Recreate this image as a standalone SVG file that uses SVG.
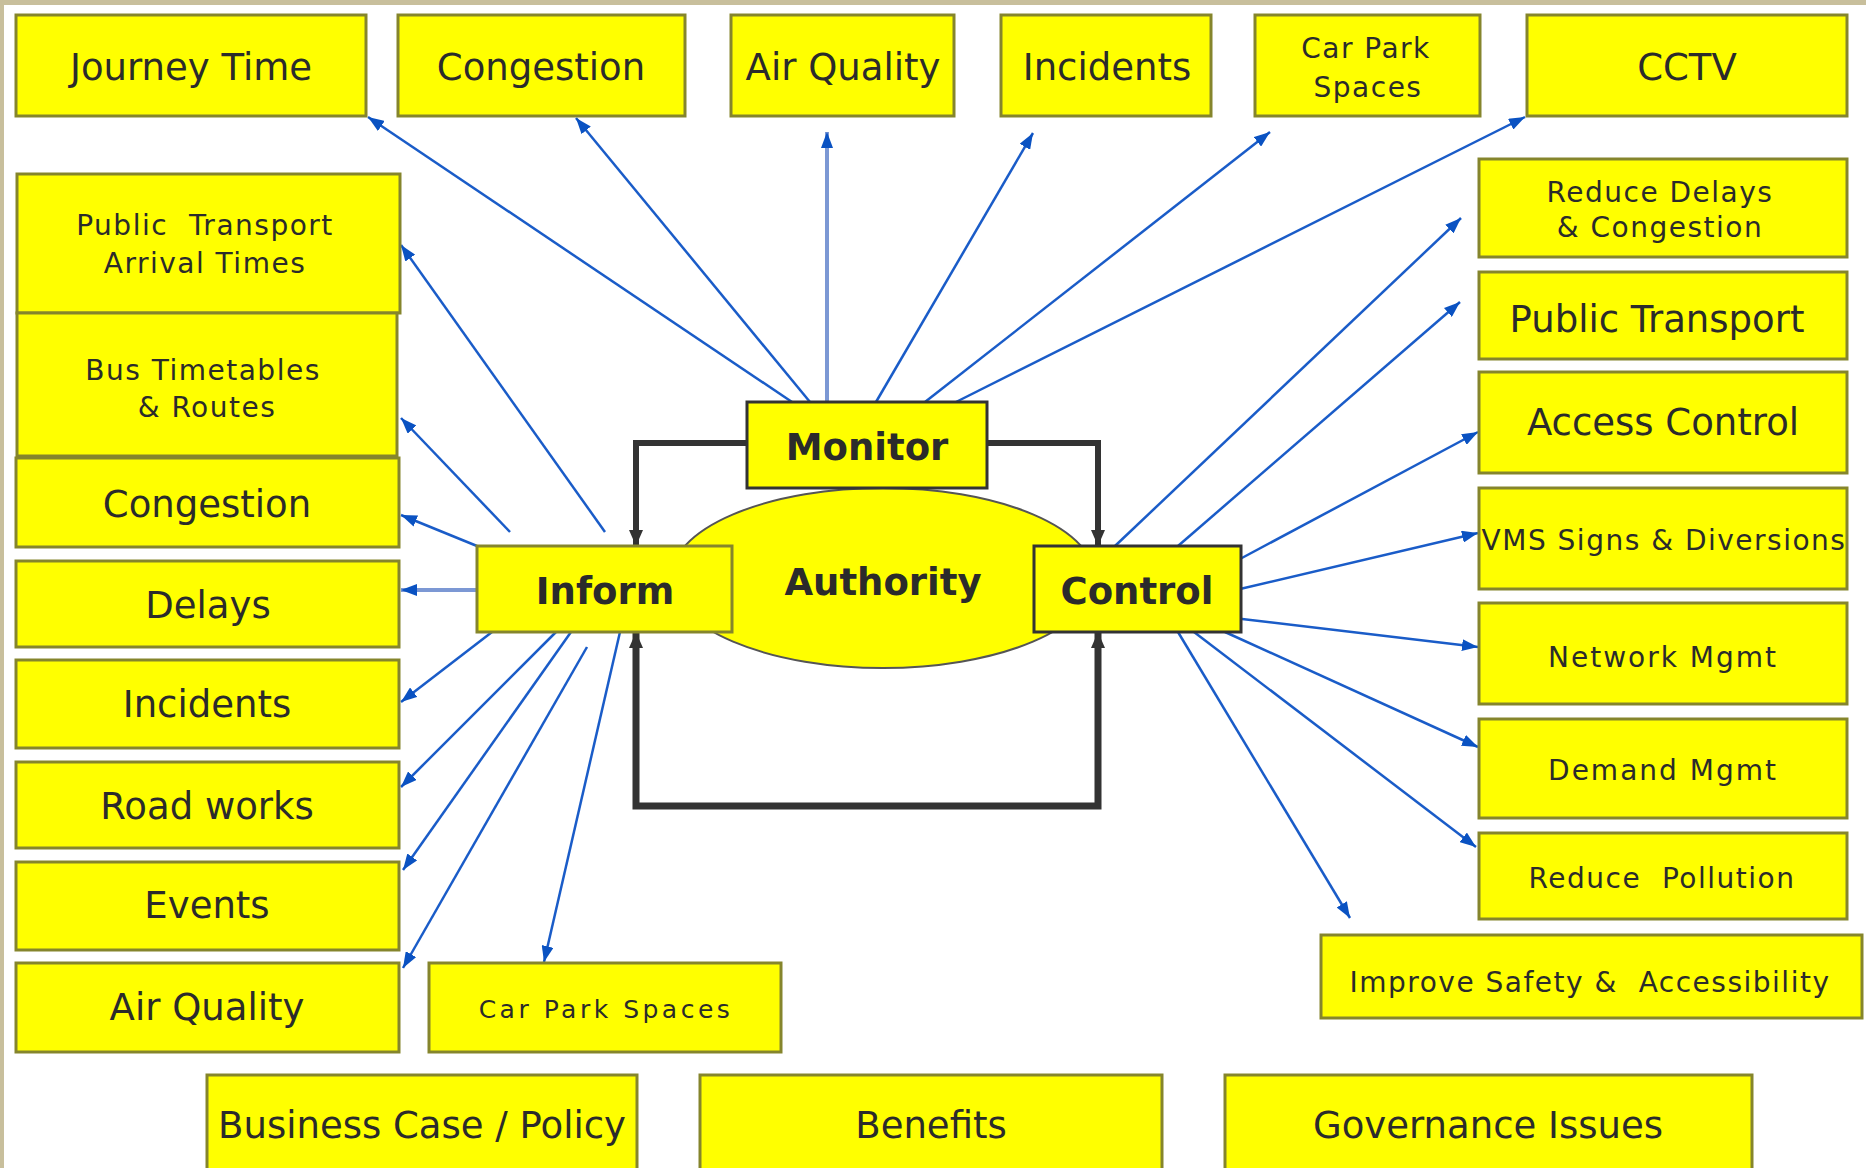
<svg xmlns="http://www.w3.org/2000/svg" width="1866" height="1168" viewBox="0 0 1866 1168">
<style>
.box{fill:#ffff00;stroke:#85852c;stroke-width:3}
.dark{stroke:#333333}
.big{font-family:"DejaVu Sans",Verdana,sans-serif;font-size:37px;fill:#2b2b2b;text-anchor:middle}
.sm{font-family:"DejaVu Sans",Verdana,sans-serif;font-size:28px;letter-spacing:1.5px;fill:#2b2b2b;text-anchor:middle}
.bold{font-family:"DejaVu Sans",Verdana,sans-serif;font-size:37px;font-weight:bold;fill:#2b2b2b;text-anchor:middle}
.blue{stroke:#1a5cc8;stroke-width:2.5;fill:none;marker-end:url(#ab)}
.light{stroke:#7c98d4;stroke-width:4}
.blk{stroke:#333333;stroke-width:6;fill:none;marker-end:url(#ak)}
</style>
<defs>
<marker id="ab" markerUnits="userSpaceOnUse" markerWidth="17" markerHeight="12" refX="16" refY="6" orient="auto"><path d="M0,0 L16,6 L0,12 z" fill="#0a52c2"/></marker>
<marker id="ak" markerUnits="userSpaceOnUse" markerWidth="17" markerHeight="14" refX="16" refY="7" orient="auto-start-reverse"><path d="M0,0 L16,7 L0,14 z" fill="#333333"/></marker>
</defs>
<rect x="0" y="0" width="1866" height="1168" fill="#ffffff"/>
<rect x="0" y="0" width="1866" height="5" fill="#c8bf9c"/>
<rect x="0" y="0" width="4" height="1168" fill="#c8bf9c"/>

<g id="authority"><ellipse cx="883" cy="578" rx="212" ry="90" fill="#ffff00" stroke="#555555" stroke-width="2"/><text class="bold" x="883" y="595">Authority</text></g>

<g id="connectors">
<path class="blk" d="M747,443 H636 V546"/>
<path class="blk" d="M987,443 H1098 V546"/>
<path class="blk" d="M636,632 V806 H1098 V632" style="marker-start:url(#ak);stroke-width:7"/>
<line class="blue" x1="792" y1="402" x2="368" y2="117"/>
<line class="blue" x1="810" y1="402" x2="576" y2="118"/>
<line class="blue light" x1="827" y1="402" x2="827" y2="132"/>
<line class="blue" x1="876" y1="402" x2="1033" y2="133"/>
<line class="blue" x1="925" y1="402" x2="1270" y2="132"/>
<line class="blue" x1="956" y1="402" x2="1525" y2="117"/>
<line class="blue" x1="605" y1="532" x2="401" y2="245"/>
<line class="blue" x1="510" y1="532" x2="401" y2="418"/>
<line class="blue" x1="477" y1="546" x2="401" y2="515"/>
<line class="blue light" x1="477" y1="590" x2="401" y2="590"/>
<line class="blue" x1="492" y1="632" x2="401" y2="702"/>
<line class="blue" x1="556" y1="632" x2="401" y2="787"/>
<line class="blue" x1="571" y1="632" x2="403" y2="870"/>
<line class="blue" x1="587" y1="647" x2="403" y2="968"/>
<line class="blue" x1="620" y1="632" x2="544" y2="962"/>
<line class="blue" x1="1115" y1="546" x2="1461" y2="218"/>
<line class="blue" x1="1178" y1="546" x2="1460" y2="302"/>
<line class="blue" x1="1240" y1="559" x2="1478" y2="432"/>
<line class="blue" x1="1240" y1="589" x2="1478" y2="533"/>
<line class="blue" x1="1225" y1="617" x2="1478" y2="647"/>
<line class="blue" x1="1225" y1="632" x2="1478" y2="747"/>
<line class="blue" x1="1194" y1="632" x2="1476" y2="847"/>
<line class="blue" x1="1178" y1="632" x2="1350" y2="918"/>
</g>

<g id="monitor"><rect class="box dark" x="747" y="402" width="240" height="86"/><text class="bold" x="867" y="460">Monitor</text></g>
<g id="inform"><rect class="box" x="477" y="546" width="255" height="86"/><text class="bold" x="605" y="604">Inform</text></g>
<g id="control"><rect class="box dark" x="1034" y="546" width="207" height="86"/><text class="bold" x="1137" y="604">Control</text></g>

<g id="journey-time"><rect class="box" x="16" y="15" width="350" height="101"/><text class="big" x="191" y="80">Journey Time</text></g>
<g id="congestion-top"><rect class="box" x="398" y="15" width="287" height="101"/><text class="big" x="541" y="80">Congestion</text></g>
<g id="air-quality-top"><rect class="box" x="731" y="15" width="223" height="101"/><text class="big" x="843" y="80">Air Quality</text></g>
<g id="incidents-top"><rect class="box" x="1001" y="15" width="210" height="101"/><text class="big" x="1107" y="80">Incidents</text></g>
<g id="car-park-top"><rect class="box" x="1255" y="15" width="225" height="101"/><text class="sm" x="1366" y="58">Car Park</text><text class="sm" x="1368" y="97">Spaces</text></g>
<g id="cctv"><rect class="box" x="1527" y="15" width="320" height="101"/><text class="big" x="1687" y="80">CCTV</text></g>

<g id="reduce-delays"><rect class="box" x="1479" y="159" width="368" height="98"/><text class="sm" x="1660" y="202">Reduce Delays</text><text class="sm" x="1660" y="237">&amp; Congestion</text></g>
<g id="public-transport"><rect class="box" x="1479" y="272" width="368" height="87"/><text class="big" x="1657" y="332">Public Transport</text></g>
<g id="access-control"><rect class="box" x="1479" y="372" width="368" height="101"/><text class="big" x="1663" y="435">Access Control</text></g>
<g id="vms"><rect class="box" x="1479" y="488" width="368" height="101"/><text class="sm" x="1664" y="550">VMS Signs &amp; Diversions</text></g>
<g id="network-mgmt"><rect class="box" x="1479" y="603" width="368" height="101"/><text class="sm" x="1663" y="667" style="letter-spacing:2px">Network Mgmt</text></g>
<g id="demand-mgmt"><rect class="box" x="1479" y="719" width="368" height="99"/><text class="sm" x="1663" y="780" style="letter-spacing:2px">Demand Mgmt</text></g>
<g id="reduce-pollution"><rect class="box" x="1479" y="833" width="368" height="86"/><text class="sm" x="1662" y="888" xml:space="preserve">Reduce  Pollution</text></g>
<g id="improve-safety"><rect class="box" x="1321" y="935" width="541" height="83"/><text class="sm" x="1590" y="992" xml:space="preserve">Improve Safety &amp;  Accessibility</text></g>

<g id="pt-arrival"><rect class="box" x="17" y="174" width="383" height="139"/><text class="sm" x="205" y="235" xml:space="preserve">Public  Transport</text><text class="sm" x="205" y="273">Arrival Times</text></g>
<g id="bus-timetables"><rect class="box" x="17" y="313" width="380" height="143"/><text class="sm" x="203" y="380">Bus Timetables</text><text class="sm" x="207" y="417">&amp; Routes</text></g>
<g id="congestion-left"><rect class="box" x="16" y="458" width="383" height="89"/><text class="big" x="207" y="517">Congestion</text></g>
<g id="delays"><rect class="box" x="16" y="561" width="383" height="86"/><text class="big" x="208" y="618">Delays</text></g>
<g id="incidents-left"><rect class="box" x="16" y="660" width="383" height="88"/><text class="big" x="207" y="717">Incidents</text></g>
<g id="road-works"><rect class="box" x="16" y="762" width="383" height="86"/><text class="big" x="207" y="819">Road works</text></g>
<g id="events"><rect class="box" x="16" y="862" width="383" height="88"/><text class="big" x="207" y="918">Events</text></g>
<g id="air-quality-left"><rect class="box" x="16" y="963" width="383" height="89"/><text class="big" x="207" y="1020">Air Quality</text></g>
<g id="car-park-bottom"><rect class="box" x="429" y="963" width="352" height="89"/><text class="sm" x="606" y="1018" style="font-size:25px;letter-spacing:3.5px">Car Park Spaces</text></g>

<g id="business-case"><rect class="box" x="207" y="1075" width="430" height="110"/><text class="big" x="422" y="1138">Business Case / Policy</text></g>
<g id="benefits"><rect class="box" x="700" y="1075" width="462" height="110"/><text class="big" x="931" y="1138">Benefits</text></g>
<g id="governance"><rect class="box" x="1225" y="1075" width="527" height="110"/><text class="big" x="1488" y="1138">Governance Issues</text></g>
</svg>
